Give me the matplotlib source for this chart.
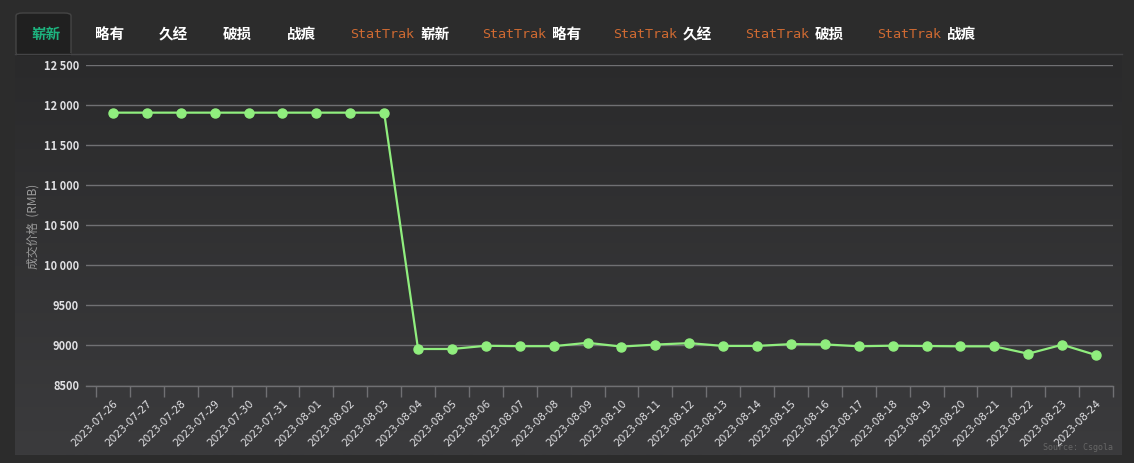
import numpy as np
import matplotlib
matplotlib.use("Agg")
import matplotlib.pyplot as plt
from matplotlib.patches import FancyBboxPatch, Rectangle
from matplotlib.ticker import FixedLocator, FuncFormatter

plt.rcParams['font.family'] = ['Noto Sans CJK SC', 'DejaVu Sans']

W, H = 1134, 463

dates = ["2023-07-26", "2023-07-27", "2023-07-28", "2023-07-29", "2023-07-30",
         "2023-07-31", "2023-08-01", "2023-08-02", "2023-08-03", "2023-08-04",
         "2023-08-05", "2023-08-06", "2023-08-07", "2023-08-08", "2023-08-09",
         "2023-08-10", "2023-08-11", "2023-08-12", "2023-08-13", "2023-08-14",
         "2023-08-15", "2023-08-16", "2023-08-17", "2023-08-18", "2023-08-19",
         "2023-08-20", "2023-08-21", "2023-08-22", "2023-08-23", "2023-08-24"]
prices = [11900, 11900, 11900, 11900, 11900, 11900, 11900, 11900, 11900, 8955,
          8955, 8995, 8990, 8990, 9032, 8985, 9010, 9028, 8993, 8993,
          9016, 9012, 8989, 8996, 8992, 8988, 8988, 8896, 9008, 8879]
yticks = [8500, 9000, 9500, 10000, 10500, 11000, 11500, 12000, 12500]

tabs = ["崭新", "略有", "久经", "破损", "战痕"]
tab_x = [31, 95, 159, 223, 287]
st_x = [350, 482, 613, 745, 877]


def fx(px):
    return px / W


def fy(py):
    return 1 - py / H


fig = plt.figure(figsize=(W / 100, H / 100), dpi=100)
fig.patch.set_facecolor("#2c2c2c")

# panel background with vertical gradient
bg = fig.add_axes([fx(15), fy(455), fx(1122 - 15), (455 - 54) / H])
grad = np.linspace(0, 1, 256).reshape(-1, 1)
cmap = matplotlib.colors.LinearSegmentedColormap.from_list("g", ["#2a2a2b", "#3b3b3d"])
bg.imshow(grad, aspect="auto", cmap=cmap, extent=[0, 1, 0, 1], origin="upper")
bg.set_axis_off()

# tab bar line and active tab
fig.add_artist(plt.Line2D([fx(15), fx(1122)], [fy(54), fy(54)], color="#444446", lw=1))
fig.add_artist(FancyBboxPatch((fx(16), fy(55)), fx(55), (55 - 13) / H,
                              boxstyle="round,pad=0,rounding_size=0.006",
                              transform=fig.transFigure, facecolor="#202020",
                              edgecolor="#454545", lw=1))
fig.add_artist(Rectangle((fx(16.5), fy(56)), fx(54), 3 / H, transform=fig.transFigure,
                         facecolor="#202020", edgecolor="none"))

for i, (t, x) in enumerate(zip(tabs, tab_x)):
    fig.text(fx(x), fy(34), t, color="#1db37e" if i == 0 else "#ffffff",
             fontsize=10.5, fontweight="bold", va="center", ha="left")
for t, x in zip(tabs, st_x):
    fig.text(fx(x), fy(34), "StatTrak", color="#cf6a32", fontsize=9.6,
             family="DejaVu Sans Mono", va="center", ha="left")
    fig.text(fx(x + 70), fy(34), t, color="#ffffff", fontsize=10.5,
             fontweight="bold", va="center", ha="left")

# plot area
ax = fig.add_axes([fx(86), fy(385.5), fx(1113 - 86), (385.5 - 64.5) / H])
ax.set_facecolor("none")
x = np.arange(len(dates))
ax.plot(x, prices, color="#90ee7e", lw=1.6, marker="o", markersize=6.5, zorder=3)

ax.set_xlim(-0.5 - 10 / 33.9, len(dates) - 0.5)
ax.set_ylim(8500, 12500)
ax.set_yticks(yticks)
ax.yaxis.set_major_formatter(FuncFormatter(
    lambda v, p: f"{int(v):,}".replace(",", " ") if v >= 10000 else f"{int(v)}"))
ax.grid(axis="y", color="#707073", lw=1)
ax.tick_params(axis="y", length=0, pad=5, labelsize=8, labelcolor="#e0e0e3")
for lab in ax.get_yticklabels():
    lab.set_fontweight("bold")

ax.xaxis.set_major_locator(FixedLocator(x))
ax.set_xticklabels(dates, rotation=45, ha="right", rotation_mode="anchor",
                   fontsize=7.6, color="#e0e0e3", family="DejaVu Sans")
ax.tick_params(axis="x", which="major", length=0, pad=9)
ax.xaxis.set_minor_locator(FixedLocator(np.arange(-0.5, len(dates), 1.0)))
ax.tick_params(axis="x", which="minor", length=8, color="#707073", width=1)

for s in ["top", "right", "left"]:
    ax.spines[s].set_visible(False)
ax.spines["bottom"].set_color("#707073")
ax.spines["bottom"].set_linewidth(1)

fig.text(fx(33), fy(226), "成交价格  (RMB)", rotation=90, color="#9a9a9a",
         fontsize=8.5, va="center", ha="center")
fig.text(fx(1113), fy(448), "Source: Csgola", color="#666666", fontsize=6,
         family="DejaVu Sans Mono", ha="right", va="center")

fig.savefig("out.png", dpi=100, facecolor=fig.get_facecolor())
